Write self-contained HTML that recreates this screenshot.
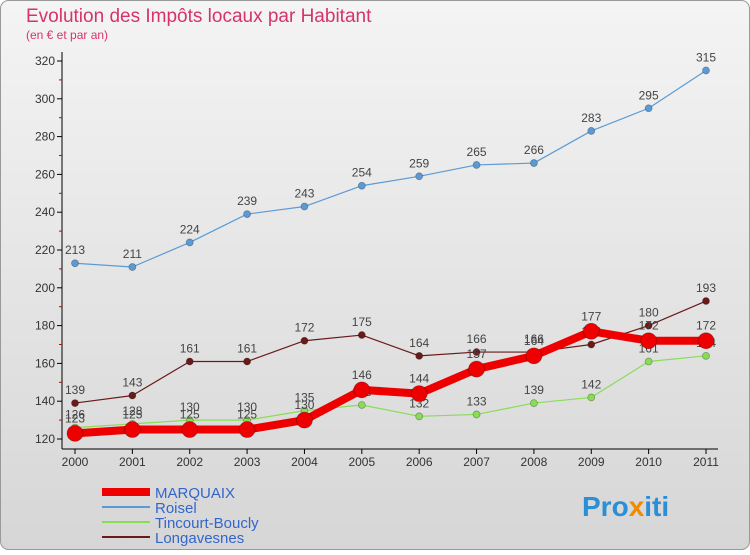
<!DOCTYPE html>
<html><head><meta charset="utf-8"><style>
body{margin:0;width:750px;height:550px;overflow:hidden;font-family:"Liberation Sans",sans-serif}
</style></head><body>
<svg width="750" height="550" xmlns="http://www.w3.org/2000/svg">
<defs><linearGradient id="bg" x1="0" y1="0" x2="0" y2="1"><stop offset="0" stop-color="#f4f4f4"/><stop offset="1" stop-color="#d6d6d6"/></linearGradient></defs>
<rect x="0.5" y="0.5" width="749" height="549" rx="8" fill="url(#bg)" stroke="#999"/>
<text x="26" y="22" font-size="19" fill="#d6336c">Evolution des Impôts locaux par Habitant</text>
<text x="26" y="39" font-size="12" fill="#d6336c">(en € et par an)</text>
<g id="axes"></g><g id="series"></g><g id="legend"></g>
<text x="582" y="516" font-size="28" font-weight="bold" fill="#2a8fd6">Pro<tspan fill="#f08a00">x</tspan>iti</text>
</svg>
<script>
const years=[2000,2001,2002,2003,2004,2005,2006,2007,2008,2009,2010,2011];
const yTicks=[120,140,160,180,200,220,240,260,280,300,320];
const marquaix=[123,125,125,125,130,146,144,157,164,177,172,172];
const roisel=[213,211,224,239,243,254,259,265,266,283,295,315];
const tincourt=[126,128,130,130,135,138,132,133,139,142,161,164];
const longavesnes=[139,143,161,161,172,175,164,166,166,170,180,193];
const NS="http://www.w3.org/2000/svg";
const xS=i=>75+i*(706-75)/11;
const yS=v=>439-(v-120)*378/200;
function mk(tag,attrs,parent,text){const e=document.createElementNS(NS,tag);for(const k in attrs)e.setAttribute(k,attrs[k]);if(text!==undefined)e.textContent=text;parent.appendChild(e);return e;}
const ax=document.getElementById('axes');
let yl=mk('line',{x1:62,y1:52,x2:62,y2:449,stroke:'#000'},ax);


let xl=mk('line',{x1:62,y1:449,x2:718,y2:449,stroke:'#000'},ax);


yTicks.forEach(t=>{const y=yS(t);
 mk('line',{x1:57,y1:y,x2:62,y2:y,stroke:'#000'},ax);
 if(t<320)mk('line',{x1:59,y1:y-18.9,x2:62,y2:y-18.9,stroke:'#c00'},ax);
 const tx=mk('text',{x:55,y:y+4,'font-size':12,'text-anchor':'end',fill:'#333'},ax,t);
 
 });
years.forEach((yr,i)=>{const x=xS(i);
 mk('line',{x1:x,y1:449,x2:x,y2:454,stroke:'#000'},ax);
 const tx=mk('text',{x:x,y:466,'font-size':12,'text-anchor':'middle',fill:'#333'},ax,yr);
 
 });
const sg=document.getElementById('series');
function draw(data,color,w,r,name,labels){
 const g=mk('g',{},sg);
 
 
 const pl=mk('polyline',{points:data.map((v,i)=>xS(i)+','+yS(v)).join(' '),fill:'none',stroke:color,'stroke-width':w,'stroke-linejoin':'round'},g);
 
 
 data.forEach((v,i)=>{const c=mk('circle',{cx:xS(i),cy:yS(v),r:r,fill:color,stroke:'rgba(0,0,0,0.3)','stroke-width':0.8},g);
  
  
  if(labels){const t=mk('text',{x:xS(i),y:yS(v)-9-(r>5?2:0),'font-size':12,'text-anchor':'middle',fill:'#444'},g,v);
  
  }});
}
draw(roisel,'#5b9bd5',1.2,3.5,'roisel',true);
draw(longavesnes,'#6b1a1a',1.2,3.5,'longavesnes',true);
draw(tincourt,'#88dd55',1.2,3.5,'tincourt-boucly',true);
draw(marquaix,'#ee0000',8,8,'marquaix',true);
const lg=document.getElementById('legend');
const items=[['MARQUAIX','#ee0000',8],['Roisel','#5b9bd5',2],['Tincourt-Boucly','#88dd55',2],['Longavesnes','#6b1a1a',2]];
items.forEach((it,i)=>{const y=492+i*15;
 const l=mk('line',{x1:102,y1:y,x2:150,y2:y,stroke:it[1],'stroke-width':it[2]},lg);
 
 
 const t=mk('text',{x:155,y:y+6,'font-size':15,fill:'#3366cc'},lg,it[0]);
 
 });
</script>
</body></html>
